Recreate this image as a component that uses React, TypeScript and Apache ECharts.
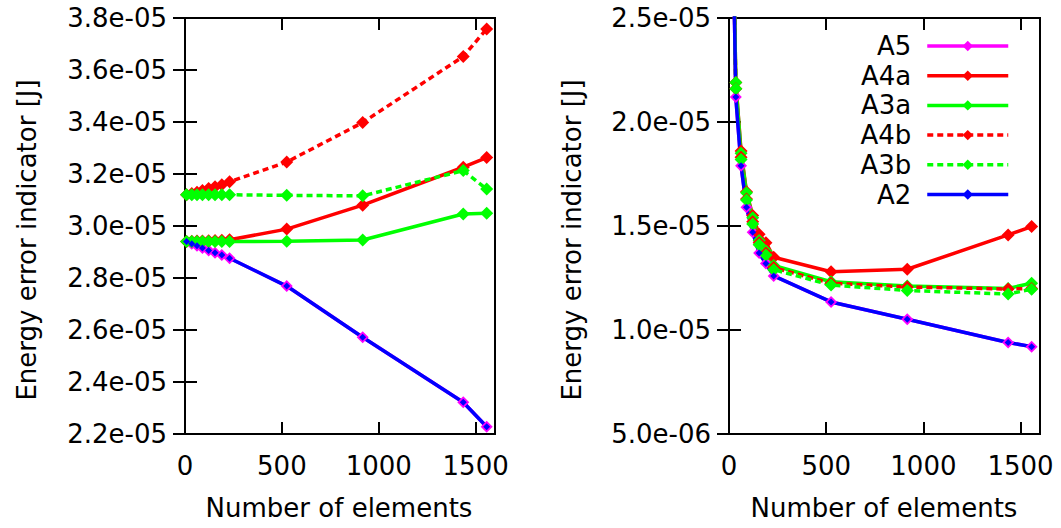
import { useEffect, useRef } from 'react';
import * as echarts from 'echarts';

// Number of elements (x values shared by every series)
const elements = [8, 35, 62, 90, 122, 155, 190, 230, 525, 917, 1436, 1557];

// Left panel
const leftA5 = [2.94e-5, 2.932e-5, 2.924e-5, 2.915e-5, 2.906e-5, 2.897e-5, 2.888e-5, 2.876e-5, 2.769e-5, 2.572e-5, 2.322e-5, 2.228e-5];
const leftA4a = [2.94e-5, 2.941e-5, 2.942e-5, 2.942e-5, 2.943e-5, 2.944e-5, 2.945e-5, 2.947e-5, 2.988e-5, 3.08e-5, 3.226e-5, 3.263e-5];
const leftA3a = [2.94e-5, 2.94e-5, 2.94e-5, 2.94e-5, 2.94e-5, 2.94e-5, 2.94e-5, 2.94e-5, 2.941e-5, 2.946e-5, 3.046e-5, 3.049e-5];
const leftA4b = [3.12e-5, 3.125e-5, 3.13e-5, 3.137e-5, 3.144e-5, 3.151e-5, 3.159e-5, 3.17e-5, 3.246e-5, 3.398e-5, 3.652e-5, 3.758e-5];
const leftA3b = [3.12e-5, 3.12e-5, 3.12e-5, 3.12e-5, 3.12e-5, 3.12e-5, 3.12e-5, 3.12e-5, 3.118e-5, 3.116e-5, 3.213e-5, 3.142e-5];
const leftA2 = [2.94e-5, 2.932e-5, 2.924e-5, 2.915e-5, 2.906e-5, 2.897e-5, 2.888e-5, 2.876e-5, 2.769e-5, 2.572e-5, 2.322e-5, 2.228e-5];

// Right panel
const rightA5 = [3.6e-5, 2.12e-5, 1.79e-5, 1.59e-5, 1.47e-5, 1.37e-5, 1.32e-5, 1.26e-5, 1.135e-5, 1.052e-5, 9.4e-6, 9.2e-6];
const rightA4a = [3.7e-5, 2.19e-5, 1.86e-5, 1.665e-5, 1.55e-5, 1.46e-5, 1.42e-5, 1.35e-5, 1.28e-5, 1.292e-5, 1.457e-5, 1.497e-5];
const rightA3a = [3.7e-5, 2.19e-5, 1.85e-5, 1.66e-5, 1.54e-5, 1.43e-5, 1.38e-5, 1.31e-5, 1.232e-5, 1.212e-5, 1.2e-5, 1.225e-5];
const rightA4b = [3.65e-5, 2.16e-5, 1.83e-5, 1.63e-5, 1.52e-5, 1.42e-5, 1.37e-5, 1.3e-5, 1.225e-5, 1.207e-5, 1.197e-5, 1.2e-5];
const rightA3b = [3.65e-5, 2.16e-5, 1.82e-5, 1.625e-5, 1.51e-5, 1.41e-5, 1.36e-5, 1.29e-5, 1.216e-5, 1.19e-5, 1.173e-5, 1.196e-5];
const rightA2 = [3.6e-5, 2.12e-5, 1.79e-5, 1.59e-5, 1.47e-5, 1.37e-5, 1.32e-5, 1.26e-5, 1.135e-5, 1.052e-5, 9.4e-6, 9.2e-6];

const seriesNames = ['A5', 'A4a', 'A3a', 'A4b', 'A3b', 'A2'];
const xTitle = 'Number of elements';
const yTitle = 'Energy error indicator [J]';

const FONT = 'DejaVu Sans';
const FS = 26;

const fmtExp = (v: number) => v.toExponential(1).replace(/e([+-])(\d)$/, 'e$10$2');
const fmtInt = (v: number) => String(Math.round(v));

const tick = { show: true, inside: true, length: 12, lineStyle: { color: '#000', width: 2 } };

function xAxis(gridIndex: number, position: string, showLabel: boolean) {
  return {
    type: 'value', gridIndex, position, min: 0, max: 1600, interval: 500,
    axisLine: { show: false }, splitLine: { show: false }, axisTick: tick,
    axisLabel: { show: showLabel, showMaxLabel: false, color: '#000', fontFamily: FONT, fontSize: FS, margin: 19, formatter: fmtInt },
  };
}

function yAxis(gridIndex: number, position: string, showLabel: boolean, min: number, max: number, interval: number) {
  return {
    type: 'value', gridIndex, position, min, max, interval,
    axisLine: { show: false }, splitLine: { show: false }, axisTick: tick,
    axisLabel: { show: showLabel, color: '#000', fontFamily: FONT, fontSize: FS, margin: 18, formatter: fmtExp },
  };
}

function line(name: string, xi: number, yi: number, vals: number[], color: string, dashed: boolean, size: number) {
  return {
    name, type: 'line', xAxisIndex: xi, yAxisIndex: yi,
    data: elements.map((x, i) => [x, vals[i]]),
    symbol: 'diamond', symbolSize: size, showSymbol: true, clip: true, silent: true,
    lineStyle: { color, width: 3.5, type: dashed ? [6, 4] : 'solid' },
    itemStyle: { color, borderWidth: 0 },
    emphasis: { disabled: true },
  };
}

const colors = ['#ff00ff', '#ff0000', '#00ff00', '#ff0000', '#00ff00', '#0000ff'];
const dashedFlags = [false, false, false, true, true, false];
const sizes = [12, 13, 13, 13, 13, 7];

export default function App() {
  const ref = useRef<HTMLDivElement>(null);
  useEffect(() => {
    if (!ref.current) return;
    const chart = echarts.init(ref.current, null, { renderer: 'svg' });
    const leftSets = [leftA5, leftA4a, leftA3a, leftA4b, leftA3b, leftA2];
    const rightSets = [rightA5, rightA4a, rightA3a, rightA4b, rightA3b, rightA2];
    const series: any[] = [];
    seriesNames.forEach((n, i) => series.push(line(n, 0, 0, leftSets[i], colors[i], dashedFlags[i], sizes[i])));
    seriesNames.forEach((n, i) => series.push(line(n, 2, 2, rightSets[i], colors[i], dashedFlags[i], sizes[i])));

    chart.setOption({
      animation: false,
      backgroundColor: '#fff',
      grid: [
        { left: 185, top: 18, width: 310, height: 416, show: true, borderColor: '#000', borderWidth: 2, backgroundColor: 'transparent' },
        { left: 729, top: 18, width: 311, height: 416, show: true, borderColor: '#000', borderWidth: 2, backgroundColor: 'transparent' },
      ],
      xAxis: [xAxis(0, 'bottom', true), xAxis(0, 'top', false), xAxis(1, 'bottom', true), xAxis(1, 'top', false)],
      yAxis: [
        yAxis(0, 'left', true, 2.2e-5, 3.8e-5, 2e-6), yAxis(0, 'right', false, 2.2e-5, 3.8e-5, 2e-6),
        yAxis(1, 'left', true, 5e-6, 2.5e-5, 5e-6), yAxis(1, 'right', false, 5e-6, 2.5e-5, 5e-6),
      ],
      legend: {
        orient: 'vertical', right: 46, top: 28, align: 'right',
        itemWidth: 81, itemHeight: 13, itemGap: 3.7, selectedMode: false,
        lineStyle: { width: 3.5 },
        textStyle: { fontFamily: FONT, fontSize: FS, color: '#000', lineHeight: 25, padding: [0, 11, 0, 0] },
        data: seriesNames,
      },
      graphic: [
        { type: 'text', x: 27, y: 240, rotation: Math.PI / 2, style: { text: yTitle, fontFamily: FONT, fontSize: FS, fill: '#000', align: 'center', verticalAlign: 'middle' } },
        { type: 'text', x: 572, y: 240, rotation: Math.PI / 2, style: { text: yTitle, fontFamily: FONT, fontSize: FS, fill: '#000', align: 'center', verticalAlign: 'middle' } },
        { type: 'text', x: 339, y: 508, style: { text: xTitle, fontFamily: FONT, fontSize: FS, fill: '#000', align: 'center', verticalAlign: 'middle' } },
        { type: 'text', x: 884, y: 508, style: { text: xTitle, fontFamily: FONT, fontSize: FS, fill: '#000', align: 'center', verticalAlign: 'middle' } },
      ],
      series,
    });
    return () => chart.dispose();
  }, []);
  return <div ref={ref} style={{ position: 'fixed', left: 0, top: 0, width: 1061, height: 528, background: '#fff' }} />;
}
